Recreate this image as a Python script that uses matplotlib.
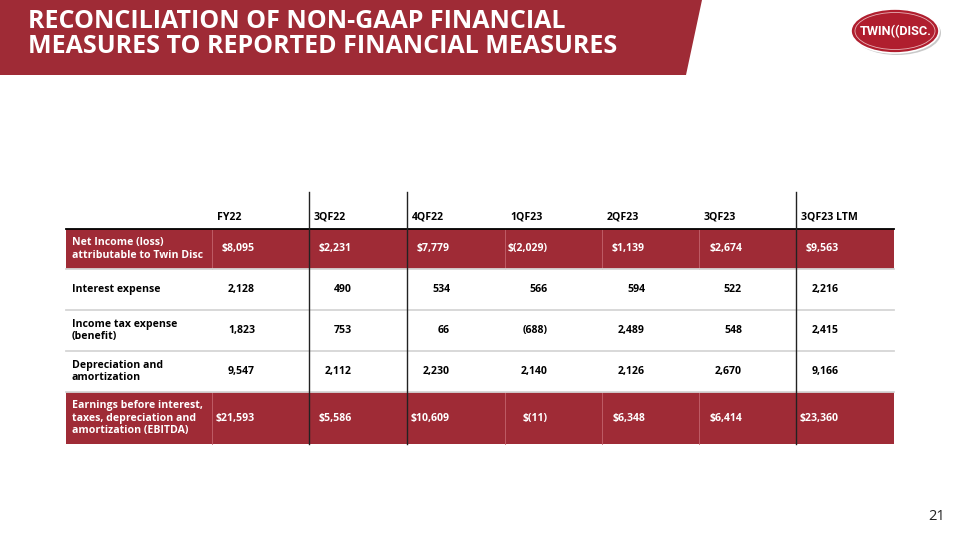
import matplotlib
matplotlib.use("Agg")
import matplotlib.pyplot as plt
from matplotlib.patches import Rectangle, Polygon, Ellipse

# table data (in $ thousands)
columns = ["FY22", "3QF22", "4QF22", "1QF23", "2QF23", "3QF23", "3QF23 LTM"]
row_labels = [
    "Net Income (loss)\nattributable to Twin Disc",
    "Interest expense",
    "Income tax expense\n(benefit)",
    "Depreciation and\namortization",
    "Earnings before interest,\ntaxes, depreciation and\namortization (EBITDA)",
]
net_income = [8095, 2231, 7779, -2029, 1139, 2674, 9563]
interest = [2128, 490, 534, 566, 594, 522, 2216]
income_tax = [1823, 753, 66, -688, 2489, 548, 2415]
depreciation = [9547, 2112, 2230, 2140, 2126, 2670, 9166]
ebitda = [21593, 5586, 10609, -11, 6348, 6414, 23360]
rows = [net_income, interest, income_tax, depreciation, ebitda]
dollar_rows = [True, False, False, False, True]

title = "RECONCILIATION OF NON-GAAP FINANCIAL\nMEASURES TO REPORTED FINANCIAL MEASURES"
page_no = "21"

RED = "#9f2b36"
FONT = "Open Sans"


def fmt(v, dollar):
    s = f"{abs(v):,}"
    if v < 0:
        s = f"({s})"
    return ("$" + s) if dollar else s


fig = plt.figure(figsize=(9.6, 5.4), dpi=100)
ax = fig.add_axes([0, 0, 1, 1])
ax.set_xlim(0, 960)
ax.set_ylim(540, 0)
ax.axis("off")

# title banner
ax.add_patch(Polygon([(0, 0), (702, 0), (686, 75), (0, 75)], closed=True,
                     facecolor=RED, edgecolor="none"))
ax.text(28, 34, title, color="white", fontsize=18, fontweight="bold",
        family=FONT, va="center", ha="left", linespacing=1.05)

# logo
ax.add_patch(Ellipse((897, 33), 88, 44, facecolor="#c9c9c9", edgecolor="none"))
ax.add_patch(Ellipse((895, 31), 88, 44, facecolor="#b01e2e", edgecolor="white", lw=1.2))
ax.add_patch(Ellipse((895, 31), 80, 37, facecolor="none", edgecolor="#e8b0b5", lw=0.6))
ax.text(896, 32, "TWIN((DISC.", color="white", fontsize=9.2, fontweight="bold",
        family="Roboto", ha="center", va="center")

# table layout
x_left, x_right = 66, 894
col_edges = [212, 309, 407, 505, 602, 699, 796, 894]
row_edges = [229, 269, 310, 351, 392, 444]
header_y = 217
fs = 7.6

for j, name in enumerate(columns):
    ax.text(col_edges[j] + 5, header_y, name, fontsize=fs, fontweight="bold",
            family=FONT, ha="left", va="center", color="black")

for i, (label, vals) in enumerate(zip(row_labels, rows)):
    y0, y1 = row_edges[i], row_edges[i + 1]
    yc = (y0 + y1) / 2
    shaded = dollar_rows[i]
    tc = "white" if shaded else "black"
    if shaded:
        ax.add_patch(Rectangle((x_left, y0), x_right - x_left, y1 - y0,
                               facecolor=RED, edgecolor="none"))
        for xe in col_edges[:-1]:
            ax.plot([xe, xe], [y0, y1], color="#c4646e", lw=0.6)
    ax.text(72, yc, label, fontsize=fs, fontweight="bold", family=FONT,
            ha="left", va="center", color=tc, linespacing=1.15)
    for j, v in enumerate(vals):
        ax.text(col_edges[j] + 43, yc, fmt(v, shaded), fontsize=fs,
                fontweight="bold", family=FONT, ha="right", va="center", color=tc)
    if 0 < i < len(rows):
        ax.plot([x_left, x_right], [y0, y0], color="#d6d6d6", lw=1.3)

ax.plot([x_left, x_right], [row_edges[0], row_edges[0]], color="black", lw=1.3)

for xe in (309, 407, 796):
    ax.plot([xe, xe], [192, row_edges[-1]], color="#222222", lw=1.0)

ax.text(945, 516, page_no, fontsize=10.5, family=FONT, ha="right", va="center",
        color="#222222")

fig.savefig("out.png", dpi=100)
